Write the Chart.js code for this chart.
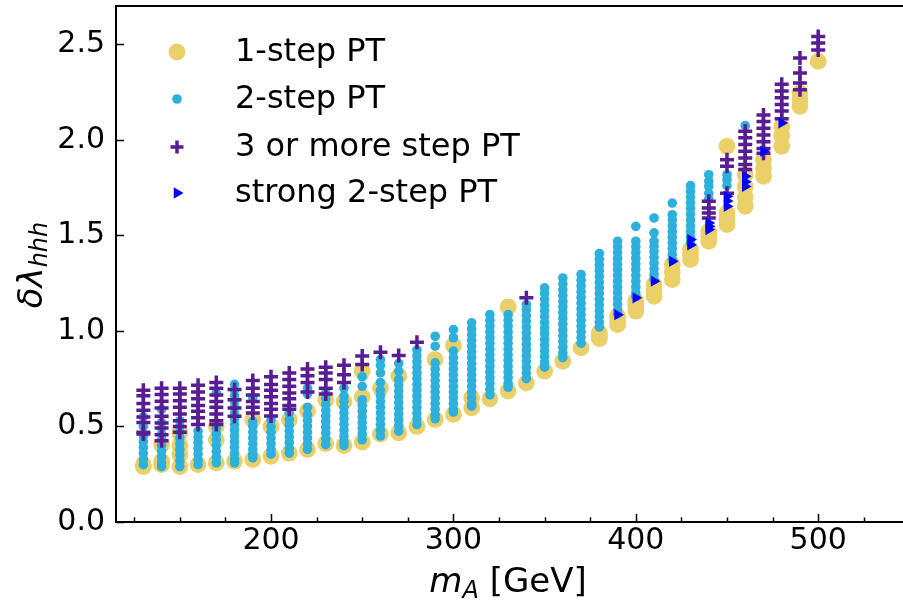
<!DOCTYPE html>
<html>
<head>
<meta charset="utf-8">
<script src="https://cdn.jsdelivr.net/npm/chart.js@4.4.1/dist/chart.umd.min.js"></script>
<style>
  html, body { margin: 0; padding: 0; background: #fff; }
</style>
</head>
<body>
<canvas id="chart" width="903" height="602"></canvas>
<script>
// m_A columns (GeV)
const massA = [130, 140, 150, 160, 170, 180, 190, 200, 210, 220, 230, 240, 250,
  260, 270, 280, 290, 300, 310, 320, 330, 340, 350, 360, 370, 380, 390, 400,
  410, 420, 430, 440, 450, 460, 470, 480, 490, 500];

// 1-step PT, one list of δλ values per m_A column
const oneStep = [
  [0.29, 0.30], [0.405, 0.318, 0.30], [0.466, 0.40, 0.353, 0.29], [0.30],
  [0.50, 0.43, 0.31], [0.318], [0.535, 0.327], [0.50, 0.344], [0.535, 0.36],
  [0.58, 0.379], [0.64, 0.41], [0.63, 0.40], [0.789, 0.655, 0.418], [0.70, 0.46],
  [0.763, 0.467], [0.50], [0.85, 0.536], [0.924, 0.563], [0.65, 0.597], [0.645],
  [1.126, 0.685], [0.728], [0.789], [0.841], [0.911], [0.99, 0.972, 0.96],
  [1.077, 1.055, 1.033], [1.155, 1.13, 1.103], [1.242, 1.21, 1.181],
  [1.347, 1.31, 1.269], [1.426, 1.40, 1.373], [1.521, 1.495, 1.469],
  [1.966, 1.617, 1.585, 1.556], [1.817, 1.756, 1.70, 1.652], [1.896, 1.85, 1.809],
  [2.07, 2.02, 1.966], [2.245, 2.21, 2.175], [2.41]
];

// 2-step PT
const twoStep = [
  [0.55, 0.50, 0.45, 0.42, 0.39, 0.36, 0.33, 0.30],
  [0.59, 0.52, 0.49, 0.46, 0.43, 0.40, 0.37, 0.34, 0.31, 0.29],
  [0.53, 0.50, 0.47, 0.44, 0.41, 0.38, 0.35, 0.32, 0.29],
  [0.475, 0.445, 0.415, 0.385, 0.355, 0.325, 0.30],
  [0.675, 0.49, 0.46, 0.43, 0.40, 0.37, 0.34, 0.31],
  [0.72, 0.69, 0.66, 0.63, 0.60, 0.57, 0.54, 0.51, 0.48, 0.45, 0.42, 0.39, 0.36, 0.33, 0.31],
  [0.65, 0.527, 0.50, 0.47, 0.44, 0.41, 0.38, 0.355, 0.335],
  [0.535, 0.50, 0.47, 0.44, 0.41, 0.38, 0.355],
  [0.57, 0.535, 0.505, 0.475, 0.445, 0.415, 0.385, 0.36],
  [0.70, 0.67, 0.60, 0.562, 0.53, 0.50, 0.47, 0.44, 0.41, 0.38],
  [0.675, 0.645, 0.615, 0.585, 0.555, 0.525, 0.495, 0.465, 0.435, 0.405],
  [0.70, 0.66, 0.632, 0.60, 0.57, 0.54, 0.51, 0.48, 0.45, 0.42, 0.40],
  [0.76, 0.71, 0.64, 0.61, 0.58, 0.55, 0.52, 0.49, 0.46, 0.43],
  [0.85, 0.82, 0.78, 0.73, 0.69, 0.66, 0.63, 0.60, 0.57, 0.54, 0.51, 0.48, 0.45],
  [0.83, 0.79, 0.746, 0.715, 0.685, 0.655, 0.625, 0.595, 0.565, 0.535, 0.505, 0.475],
  [0.90, 0.87, 0.84, 0.81, 0.78, 0.75, 0.72, 0.69, 0.66, 0.63, 0.60, 0.57, 0.54, 0.51],
  [0.972, 0.92, 0.833, 0.80, 0.77, 0.74, 0.71, 0.68, 0.65, 0.62, 0.59, 0.56, 0.54],
  [1.007, 0.964, 0.894, 0.86, 0.83, 0.80, 0.77, 0.74, 0.71, 0.68, 0.65, 0.62, 0.59, 0.575],
  [1.042, 1.01, 0.98, 0.95, 0.92, 0.89, 0.86, 0.83, 0.80, 0.77, 0.74, 0.71, 0.68, 0.65, 0.62, 0.606],
  [1.085, 1.055, 1.025, 0.995, 0.965, 0.935, 0.905, 0.875, 0.845, 0.815, 0.785, 0.755, 0.725, 0.695, 0.665],
  [1.085, 1.055, 1.025, 0.995, 0.965, 0.935, 0.905, 0.875, 0.845, 0.815, 0.785, 0.755, 0.725, 0.705],
  [1.138, 1.11, 1.08, 1.05, 1.02, 0.99, 0.96, 0.93, 0.90, 0.87, 0.84, 0.81, 0.78, 0.75],
  [1.225, 1.195, 1.165, 1.135, 1.105, 1.075, 1.045, 1.015, 0.985, 0.955, 0.925, 0.895, 0.865, 0.835, 0.81],
  [1.277, 1.245, 1.215, 1.185, 1.155, 1.125, 1.095, 1.065, 1.035, 1.005, 0.975, 0.945, 0.915, 0.885, 0.86],
  [1.295, 1.265, 1.235, 1.205, 1.175, 1.145, 1.115, 1.085, 1.055, 1.025, 0.995, 0.965, 0.935],
  [1.405, 1.375, 1.345, 1.315, 1.285, 1.255, 1.225, 1.195, 1.165, 1.135, 1.105, 1.075, 1.045, 1.02],
  [1.469, 1.44, 1.41, 1.38, 1.35, 1.32, 1.29, 1.26, 1.23, 1.20, 1.17, 1.14, 1.11, 1.09],
  [1.547, 1.469, 1.44, 1.41, 1.38, 1.35, 1.32, 1.29, 1.26, 1.23, 1.20, 1.18],
  [1.591, 1.513, 1.469, 1.443, 1.415, 1.385, 1.355, 1.325, 1.295, 1.27],
  [1.669, 1.608, 1.58, 1.55, 1.52, 1.49, 1.46, 1.43, 1.40, 1.373],
  [1.76, 1.73, 1.70, 1.67, 1.64, 1.61, 1.58, 1.55, 1.52, 1.49, 1.46],
  [1.817, 1.783, 1.756, 1.72, 1.69],
  [1.817, 1.791, 1.76],
  [2.074], [], [], [], []
];

// 3 or more step PT
const threeStep = [
  [0.69, 0.66, 0.62, 0.585, 0.55, 0.52, 0.47, 0.46],
  [0.70, 0.667, 0.632, 0.597, 0.553, 0.518, 0.492, 0.457, 0.425],
  [0.70, 0.67, 0.635, 0.60, 0.565, 0.53, 0.50, 0.47],
  [0.715, 0.68, 0.645, 0.61, 0.58, 0.545, 0.51],
  [0.73, 0.70, 0.665, 0.63, 0.60, 0.565, 0.53, 0.51],
  [0.693, 0.64, 0.597, 0.553],
  [0.74, 0.70, 0.665, 0.63, 0.60, 0.57],
  [0.76, 0.72, 0.69, 0.655, 0.62, 0.59, 0.555],
  [0.78, 0.745, 0.71, 0.675, 0.645, 0.61, 0.59],
  [0.80, 0.765, 0.73, 0.68],
  [0.81, 0.78, 0.745, 0.70, 0.67],
  [0.82, 0.77, 0.73],
  [0.868, 0.824], [0.888], [0.871], [0.941],
  [], [], [], [], [], [1.173], [], [], [], [], [], [], [], [], [],
  [1.678, 1.643, 1.617, 1.591],
  [1.896, 1.861, 1.72],
  [2.044, 2.01, 1.975, 1.94, 1.905, 1.87, 1.844],
  [2.13, 2.095, 2.06, 2.025, 1.99, 1.955, 1.93],
  [2.29, 2.255, 2.22, 2.185, 2.15, 2.11],
  [2.428, 2.349, 2.297, 2.262],
  [2.54, 2.506, 2.47]
];

// strong 2-step PT
const strongTwoStep = [
  [], [], [], [], [], [], [], [], [], [], [], [], [], [], [], [], [], [], [], [], [], [], [], [], [], [],
  [1.085], [1.173], [1.26], [1.364], [1.478, 1.45], [1.565, 1.547, 1.53],
  [1.704, 1.68, 1.652], [1.809, 1.78, 1.756], [1.94], [2.088], [], []
];

const seriesNames = ['1-step PT', '2-step PT', '3 or more step PT', 'strong 2-step PT'];
const xMajorTicks = [200, 300, 400, 500];
const xMinorTicks = [125, 150, 175, 225, 250, 275, 325, 350, 375, 425, 450, 475, 525];
const yTicks = [0, 0.5, 1.0, 1.5, 2.0, 2.5];

function toPoints(cols) {
  const pts = [];
  massA.forEach((m, i) => cols[i].forEach(v => pts.push({ x: m, y: v })));
  return pts;
}

const FONT = 'DejaVu Sans';
const styles = [
  { color: '#ebcf69', pointStyle: 'circle', radius: 8.4, borderWidth: 0, rotation: 0 },
  { color: '#2db0db', pointStyle: 'circle', radius: 4.8, borderWidth: 0, rotation: 0 },
  { color: '#591d93', pointStyle: 'cross', radius: 7, borderWidth: 3.5, rotation: 0 },
  { color: '#0000ff', pointStyle: 'triangle', radius: 6.5, borderWidth: 0, rotation: 90 }
];
const allCols = [oneStep, twoStep, threeStep, strongTwoStep];

// Frame, inward ticks, axis titles and legend
const decorations = {
  id: 'decorations',
  afterDraw(chart) {
    const { ctx, chartArea: a, scales } = chart;
    const xs = scales.x, ys = scales.y;
    ctx.save();
    ctx.strokeStyle = '#000';
    ctx.lineWidth = 2;
    ctx.beginPath();
    ctx.moveTo(a.left - 1, a.top);
    ctx.lineTo(a.right + 2, a.top);
    ctx.stroke();

    ctx.lineWidth = 1.5;
    ctx.beginPath();
    xMajorTicks.forEach(v => {
      const p = Math.round(xs.getPixelForValue(v)) + 0.5;
      ctx.moveTo(p, a.bottom); ctx.lineTo(p, a.bottom - 8);
    });
    xMinorTicks.forEach(v => {
      const p = Math.round(xs.getPixelForValue(v)) + 0.5;
      ctx.moveTo(p, a.bottom); ctx.lineTo(p, a.bottom - 4.5);
    });
    yTicks.forEach(v => {
      const p = Math.round(ys.getPixelForValue(v)) + 0.5;
      ctx.moveTo(a.left, p); ctx.lineTo(a.left + 8, p);
    });
    ctx.stroke();

    // x title: m_A [GeV]
    ctx.fillStyle = '#000';
    ctx.textBaseline = 'alphabetic';
    ctx.textAlign = 'left';
    const parts = [
      { t: 'm', f: 'italic 34px ' + FONT, dy: 0 },
      { t: 'A', f: 'italic 24px ' + FONT, dy: 6 },
      { t: ' [GeV]', f: '34px ' + FONT, dy: 0 }
    ];
    let w = 0;
    parts.forEach(p => { ctx.font = p.f; w += ctx.measureText(p.t).width; });
    let x = 508 - w / 2;
    const baseY = 592;
    parts.forEach(p => {
      ctx.font = p.f;
      ctx.fillText(p.t, x, baseY + p.dy);
      x += ctx.measureText(p.t).width;
    });

    // y title: δλ_hhh (rotated)
    ctx.save();
    ctx.translate(42, 265);
    ctx.rotate(-Math.PI / 2);
    const yparts = [
      { t: 'δλ', f: 'italic 34px ' + FONT, dy: 0 },
      { t: 'hhh', f: 'italic 24px ' + FONT, dy: 5 }
    ];
    w = 0;
    yparts.forEach(p => { ctx.font = p.f; w += ctx.measureText(p.t).width; });
    x = -w / 2;
    yparts.forEach(p => {
      ctx.font = p.f;
      ctx.fillText(p.t, x, p.dy);
      x += ctx.measureText(p.t).width;
    });
    ctx.restore();

    // legend
    const rowY = [52, 99, 147, 193];
    seriesNames.forEach((name, i) => {
      const s = styles[i];
      ctx.fillStyle = s.color;
      ctx.strokeStyle = s.color;
      ctx.lineWidth = s.borderWidth;
      Chart.helpers.drawPoint(ctx, {
        pointStyle: s.pointStyle, radius: i === 2 ? 6.5 : s.radius, rotation: s.rotation,
        borderWidth: s.borderWidth
      }, 177, rowY[i]);
      ctx.fillStyle = '#000';
      ctx.font = '32px ' + FONT;
      ctx.fillText(name, 235, rowY[i] + 9);
    });
    ctx.restore();
  }
};

new Chart(document.getElementById('chart'), {
  type: 'scatter',
  data: {
    datasets: allCols.map((cols, i) => ({
      label: seriesNames[i],
      data: toPoints(cols),
      order: 4 - i,
      pointStyle: styles[i].pointStyle,
      pointRadius: styles[i].radius,
      pointHoverRadius: styles[i].radius,
      pointRotation: styles[i].rotation,
      backgroundColor: styles[i].color,
      borderColor: styles[i].color,
      borderWidth: styles[i].borderWidth
    }))
  },
  options: {
    responsive: false,
    animation: false,
    devicePixelRatio: 1,
    layout: { autoPadding: false, padding: { top: 6, right: 0, left: 0, bottom: 0 } },
    plugins: { legend: { display: false }, tooltip: { enabled: false } },
    scales: {
      x: {
        type: 'linear',
        min: 115,
        max: 546.5,
        afterBuildTicks: s => { s.ticks = xMajorTicks.map(v => ({ value: v })); },
        afterFit: s => { s.height = 80; s.paddingLeft = 0; s.paddingRight = 0; },
        grid: { display: false, drawTicks: false },
        border: { display: true, color: '#000', width: 2 },
        ticks: { color: '#000', padding: 1, font: { family: FONT, size: 30 }, maxRotation: 0 }
      },
      y: {
        type: 'linear',
        min: 0,
        max: 2.7,
        afterBuildTicks: s => { s.ticks = yTicks.map(v => ({ value: v })); },
        afterFit: s => { s.width = 116; s.paddingTop = 0; s.paddingBottom = 0; },
        grid: { display: false, drawTicks: false },
        border: { display: true, color: '#000', width: 2 },
        ticks: {
          color: '#000', padding: 11, font: { family: FONT, size: 30 },
          callback: v => v.toFixed(1)
        }
      }
    }
  },
  plugins: [decorations]
});
</script>
</body>
</html>
